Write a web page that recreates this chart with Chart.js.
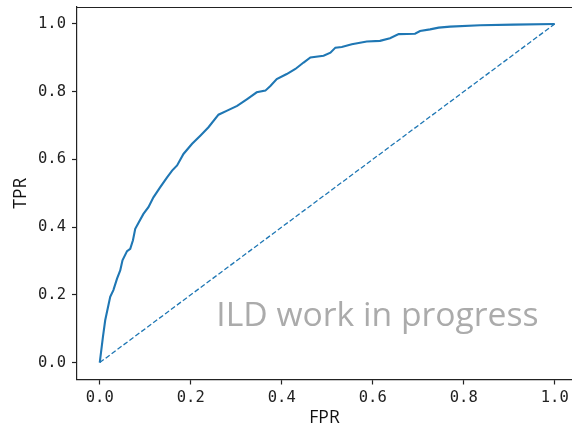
<!DOCTYPE html>
<html>
<head>
<meta charset="utf-8">
<title>ROC</title>
<script src="https://cdn.jsdelivr.net/npm/chart.js@4/dist/chart.umd.min.js"></script>
<style>
    html, body { margin: 0; padding: 0; background: #fff; overflow: hidden; }
    canvas { display: block; }
</style>
</head>
<body>
<canvas id="roc" width="572" height="429"></canvas>
<script>
// ROC curve points (false positive rate / true positive rate)
const fpr = [0, 0.007, 0.012, 0.023, 0.030, 0.038, 0.045, 0.050, 0.060, 0.067,
    0.073, 0.078, 0.085, 0.096, 0.107, 0.118, 0.133, 0.148, 0.159, 0.170,
    0.184, 0.203, 0.221, 0.239, 0.261, 0.280, 0.302, 0.324, 0.345, 0.364,
    0.375, 0.389, 0.411, 0.430, 0.448, 0.463, 0.492, 0.507, 0.518, 0.532,
    0.554, 0.587, 0.616, 0.638, 0.657, 0.693, 0.704, 0.726, 0.745, 0.770,
    0.836, 0.909, 1.0];
const tpr = [0, 0.076, 0.125, 0.194, 0.214, 0.248, 0.272, 0.302, 0.329, 0.336,
    0.361, 0.395, 0.412, 0.439, 0.459, 0.488, 0.518, 0.547, 0.567, 0.582,
    0.616, 0.646, 0.670, 0.695, 0.732, 0.744, 0.758, 0.778, 0.798, 0.803,
    0.817, 0.837, 0.852, 0.867, 0.886, 0.901, 0.906, 0.915, 0.930, 0.932,
    0.940, 0.948, 0.950, 0.958, 0.970, 0.971, 0.979, 0.984, 0.989, 0.992,
    0.996, 0.998, 1.0];

// chance line
const chanceX = [0, 1];
const chanceY = [0, 1];

const xTicks = [0.0, 0.2, 0.4, 0.6, 0.8, 1.0];
const yTicks = [0.0, 0.2, 0.4, 0.6, 0.8, 1.0];

const xLabel = 'FPR';
const yLabel = 'TPR';
const watermark = 'ILD work in progress';

window.onload = init;

function init() {
    createChart();
}

function toPoints(xs, ys) {
    return xs.map((x, i) => ({ x: x, y: ys[i] }));
}

// no extra room for the end labels, the axes run past them anyway
function noLabelPadding(s) {
    s.paddingTop = 0;
    s.paddingBottom = 0;
    s.paddingLeft = 0;
    s.paddingRight = 0;
}

// top edge of the box + grey note text
// (the right edge of the box falls just outside the canvas)
const frame = {
    id: 'frame',
    afterDatasetsDraw(chart) {
        const { ctx, chartArea: a, scales } = chart;
        ctx.save();
        ctx.font = '33.7px "Open Sans"';
        ctx.fillStyle = '#ababab';
        ctx.textBaseline = 'alphabetic';
        ctx.fillText(watermark, scales.x.getPixelForValue(0.256), scales.y.getPixelForValue(0.108));
        ctx.strokeStyle = '#222';
        ctx.lineWidth = 1.2;
        ctx.beginPath();
        ctx.moveTo(a.left, a.top + 0.5);
        ctx.lineTo(a.right, a.top + 0.5);
        ctx.stroke();
        ctx.restore();
    }
};

function createChart() {
    const ctx = document.getElementById('roc').getContext('2d');
    const tickFont = { family: '"DejaVu Sans Mono", monospace', size: 15.5 };
    const titleFont = { family: '"Open Sans", sans-serif', size: 17.5 };

    new Chart(ctx, {
        type: 'line',
        data: {
            datasets: [
                {
                    data: toPoints(fpr, tpr),
                    borderColor: '#1f77b4',
                    borderWidth: 2.1,
                    pointRadius: 0,
                    tension: 0,
                    fill: false
                },
                {
                    data: toPoints(chanceX, chanceY),
                    borderColor: '#1f77b4',
                    borderWidth: 1.3,
                    borderDash: [5, 2.4],
                    pointRadius: 0,
                    tension: 0,
                    fill: false
                }
            ]
        },
        options: {
            responsive: false,
            animation: false,
            layout: { padding: { top: 7, right: 0, left: 0, bottom: 0 } },
            plugins: {
                legend: { display: false },
                tooltip: { enabled: false }
            },
            scales: {
                x: {
                    type: 'linear',
                    min: -0.05,
                    max: 1.038,
                    afterBuildTicks: s => { s.ticks = xTicks.map(v => ({ value: v })); },
                    afterFit: s => { s.height = 49.5; noLabelPadding(s); },
                    grid: { drawOnChartArea: false, tickLength: 5, tickColor: '#222', tickWidth: 1.2 },
                    border: { color: '#222', width: 1.2 },
                    ticks: {
                        font: tickFont,
                        color: '#222',
                        padding: 4,
                        maxRotation: 0,
                        callback: v => v.toFixed(1)
                    },
                    title: { display: true, text: xLabel, font: titleFont, color: '#111', padding: { top: 0, bottom: 0 } }
                },
                y: {
                    type: 'linear',
                    min: -0.05,
                    max: 1.05,
                    afterBuildTicks: s => { s.ticks = yTicks.map(v => ({ value: v })); },
                    afterFit: s => { s.width = 77; noLabelPadding(s); },
                    grid: { drawOnChartArea: false, tickLength: 5, tickColor: '#222', tickWidth: 1.2 },
                    border: { color: '#222', width: 1.2 },
                    ticks: {
                        font: tickFont,
                        color: '#222',
                        padding: 6,
                        callback: v => v.toFixed(1)
                    },
                    title: { display: true, text: yLabel, font: titleFont, color: '#111', padding: { top: 10.5, bottom: 0 } }
                }
            }
        },
        plugins: [frame]
    });
}
</script>
</body>
</html>
